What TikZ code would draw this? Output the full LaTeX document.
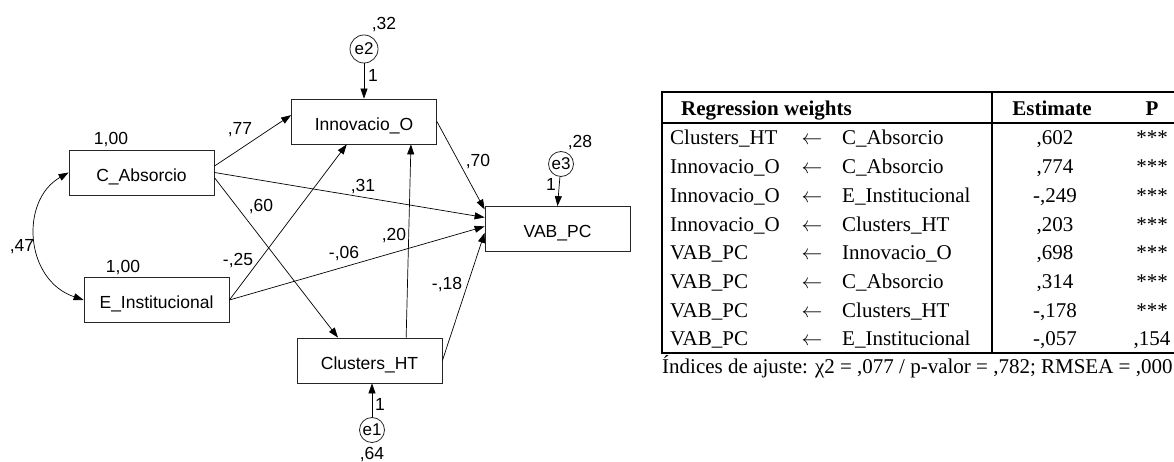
\documentclass[tikz,border=0pt]{standalone}
\usepackage{fontspec}
\setmainfont{Liberation Serif}
\newfontfamily\amosfont{Liberation Sans}
\usetikzlibrary{arrows.meta,positioning}

\begin{document}
\begin{tikzpicture}[x=1pt,y=-1pt,
    var/.style={draw=black!85, line width=0.8pt, minimum width=145pt, minimum height=45pt,
        inner sep=0pt, text height=17.5pt, text depth=0pt, font=\amosfont\fontsize{17.5}{20}\selectfont},
    err/.style={draw=black!85, circle, line width=0.8pt, minimum size=25pt, inner sep=0pt,
        font=\amosfont\fontsize{17}{20}\selectfont},
    lbl/.style={inner sep=0pt, text height=12.5pt, text depth=0pt, font=\amosfont\fontsize{17.5}{20}\selectfont},
    reg/.style={-{Triangle[length=10pt,width=7pt]}, line width=0.7pt},
    tab/.style={inner sep=0pt, text height=14pt, text depth=0pt, font=\fontsize{21}{24}\selectfont},
    tabb/.style={tab, font=\fontsize{21}{24}\selectfont\bfseries}]
    \useasboundingbox (0,0) rectangle (1174,462);

    % observed variables
    \node[var] (CA) at (141.5,172.5) {C\_Absorcio};
    \node[var] (IO) at (364,121.5) {Innovacio\_O};
    \node[var] (EI) at (156.5,300) {E\_Institucional};
    \node[var] (CH) at (369.5,360.5) {Clusters\_HT};
    \node[var] (VP) at (557.5,229) {VAB\_PC};

    % error terms
    \node[err, minimum size=28pt] (e2) at (364,49) {e2};
    \node[err] (e1) at (372,430) {e1};
    \node[err] (e3) at (561,164) {e3};
    \draw[reg] (e2) -- (IO);
    \draw[reg] (e1) -- (e1 |- CH.south);
    \draw[reg] (e3) -- (VP.north);

    % regression paths
    \draw[reg] (CA.5) -- (IO.175);
    \draw[reg] (CA.east) -- (VP.171);
    \draw[reg] (CA.-4) -- (CH.144);
    \draw[reg] (EI.east) -- (IO.233);
    \draw[reg] (EI.east) -- (VP.178);
    \draw[reg] (CH.32) -- (IO.-26);
    \draw[reg] (CH.east) -- (VP.183);
    \draw[reg] (IO.east) -- (VP.165);
    % covariance
    \draw[{Triangle[length=10pt,width=7pt]}-{Triangle[length=10pt,width=7pt]}, line width=0.7pt]
        (CA.west) .. controls +(-49,28) and +(-59,-20) .. (EI.west);

    % estimates
    \node[lbl] (v32) at (384,23) {,32};
    \node[lbl] (v28) at (580,141) {,28};
    \node[lbl] (v64) at (372,453) {,64};
    \node[lbl] (w2) at (373,75) {1};
    \node[lbl] (w3) at (551,184) {1};
    \node[lbl] (w1) at (380,404) {1};
    \node[lbl] (vCA) at (111,138) {1,00};
    \node[lbl] (vEI) at (123,266) {1,00};
    \node[lbl] (c47) at (22,245) {,47};
    \node[lbl] (b77) at (240,128) {,77};
    \node[lbl] (b60) at (261,205) {,60};
    \node[lbl] (b31) at (363,185) {,31};
    \node[lbl] (b70) at (478,160) {,70};
    \node[lbl] (b20) at (394,234) {,20};
    \node[lbl] (b25) at (238,259) {-,25};
    \node[lbl] (b06) at (344,252) {-,06};
    \node[lbl] (b18) at (447,283) {-,18};

    % table of regression weights
    \draw[line width=1.4pt] (662,92) rectangle (1190,353);
    \draw[line width=1.4pt] (662,123) -- (1190,123);
    \draw[line width=1.4pt] (992,92) -- (992,353);
    \node[tabb, anchor=west] (hreg) at (681,109) {Regression weights};
    \node[tabb] (hest) at (1052,109) {Estimate};
    \node[tabb] (hp) at (1152,109) {P};
    \foreach \dep/\ind/\est/\p [count=\i] in {
        Clusters\_HT/C\_Absorcio/{,602}/***,
        Innovacio\_O/C\_Absorcio/{,774}/***,
        Innovacio\_O/E\_Institucional/{-,249}/***,
        Innovacio\_O/Clusters\_HT/{,203}/***,
        VAB\_PC/Innovacio\_O/{,698}/***,
        VAB\_PC/C\_Absorcio/{,314}/***,
        VAB\_PC/Clusters\_HT/{-,178}/***,
        VAB\_PC/E\_Institucional/{-,057}/{,154}}{
        \node[tab, anchor=west] (dep\i) at (670,{138+28.7*(\i-1)}) {\dep};
        \node[tab] (arr\i) at (812,{138+28.7*(\i-1)}) {$\leftarrow$};
        \node[tab, anchor=west] (ind\i) at (842,{138+28.7*(\i-1)}) {\ind};
        \node[tab] (est\i) at (1055,{138+28.7*(\i-1)}) {\est};
        \node[tab] (p\i) at (1152,{138+28.7*(\i-1)}) {\p};
    }
    \node[tab, anchor=west] (fitidx) at (662,366) {Índices de ajuste: χ2 = ,077 / p-valor = ,782; RMSEA = ,000};
\end{tikzpicture}
\end{document}
